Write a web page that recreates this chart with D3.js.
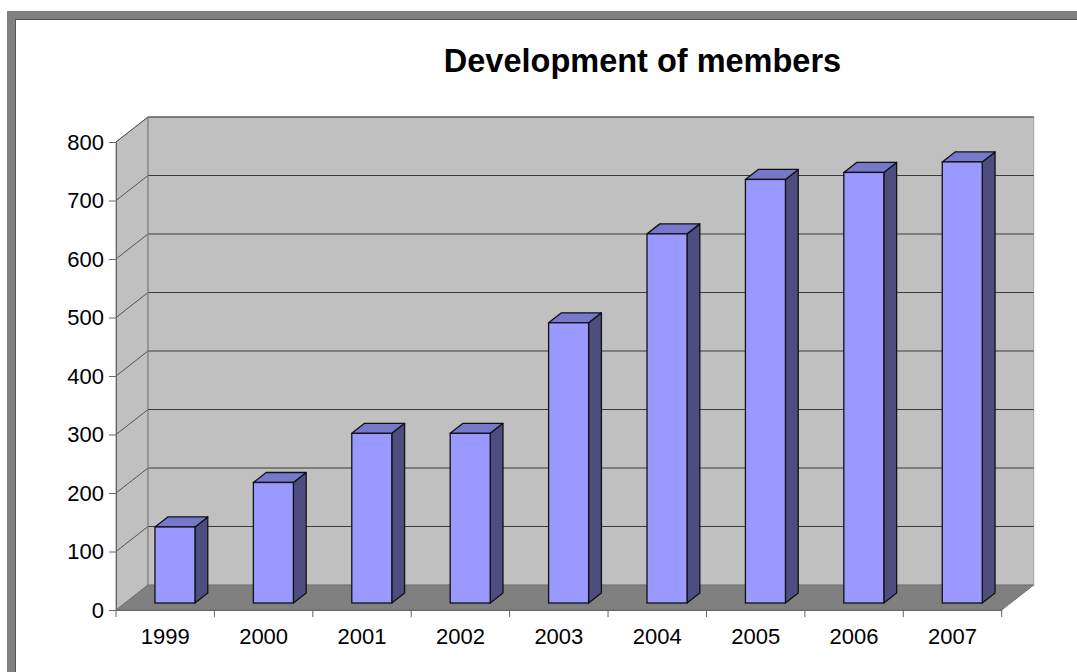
<!DOCTYPE html>
<html>
<head>
<meta charset="utf-8">
<script src="https://cdn.jsdelivr.net/npm/d3@7"></script>
<style>
  html, body { margin: 0; padding: 0; background: #fff; }
  svg { display: block; font-family: "Liberation Sans", Arial, sans-serif; }
</style>
</head>
<body>
<div id="chart"></div>
<script>
// chart data
const years = ["1999", "2000", "2001", "2002", "2003", "2004", "2005", "2006", "2007"];
const members = [130, 206, 290, 290, 479, 631, 724, 736, 754];
const yTicks = [0, 100, 200, 300, 400, 500, 600, 700, 800];
const title = "Development of members";

const width = 1077, height = 672;
const DX = 32, DY = 25;        // depth of the 3d box
const front0 = 0.28, front1 = 0.68; // bar depth inside the box
const barW = 40;

const svg = d3.select("#chart").append("svg")
    .attr("width", width)
    .attr("height", height);

// outer frame (runs off the page on right and bottom)
svg.append("path")
    .attr("d", `M11.5,${height + 10} V15.5 H${width + 10}`)
    .attr("fill", "none")
    .attr("stroke", "#808080")
    .attr("stroke-width", 9);
svg.append("path")
    .attr("d", `M15.5,${height + 10} V19.5 H${width + 10}`)
    .attr("fill", "none")
    .attr("stroke", "#555")
    .attr("stroke-width", 1);

const x = d3.scaleBand().domain(years).range([116, 1001.7]).paddingInner(0).paddingOuter(0);
const y = d3.scaleLinear().domain([0, 800]).range([610, 142]);

const x0 = x.range()[0], x1 = x.range()[1];
const yb = y(0), ytop = y(800);

// left wall
svg.append("path")
    .attr("d", `M${x0},${yb} L${x0},${ytop} L${x0 + DX},${ytop - DY} L${x0 + DX},${yb - DY} Z`)
    .attr("fill", "#c0c0c0")
    .attr("stroke", "#8a8a8a");
// back wall
svg.append("rect")
    .attr("x", x0 + DX).attr("y", ytop - DY)
    .attr("width", x1 - x0).attr("height", yb - ytop)
    .attr("fill", "#c0c0c0")
    .attr("stroke", "#a0a0a0");
// floor
svg.append("path")
    .attr("d", `M${x0},${yb} L${x1},${yb} L${x1 + DX},${yb - DY} L${x0 + DX},${yb - DY} Z`)
    .attr("fill", "#808080")
    .attr("stroke", "#707070");

// gridlines: back wall + left wall
const grid = svg.append("g");
yTicks.filter(t => t > 0).forEach(t => {
    grid.append("line")
        .attr("x1", x0 + DX).attr("x2", x1 + DX)
        .attr("y1", y(t) - DY).attr("y2", y(t) - DY)
        .attr("stroke", "#3a3a3a").attr("stroke-width", 1);
    grid.append("line")
        .attr("x1", x0).attr("x2", x0 + DX)
        .attr("y1", y(t)).attr("y2", y(t) - DY)
        .attr("stroke", "#555").attr("stroke-width", 1);
});
grid.append("line")
    .attr("x1", x0 + DX).attr("x2", x0 + DX)
    .attr("y1", ytop - DY).attr("y2", yb - DY)
    .attr("stroke", "#808080");

// bars
const sdx = (front1 - front0) * DX, sdy = (front1 - front0) * DY;
const bars = svg.append("g").selectAll("g")
    .data(years.map((yr, i) => ({ year: yr, value: members[i] })))
    .join("g");

bars.each(function (d) {
    const g = d3.select(this);
    const xl = x(d.year) + (x.bandwidth() - barW) / 2 + front0 * DX + 0.8;
    const xr = xl + barW;
    const yB = y(0) - front0 * DY;
    const yT = y(d.value) - front0 * DY;
    // side
    g.append("path")
        .attr("d", `M${xr},${yT} L${xr + sdx},${yT - sdy} L${xr + sdx},${yB - sdy} L${xr},${yB} Z`)
        .attr("fill", "#4d4d80").attr("stroke", "#111").attr("stroke-width", 1.3)
        .attr("stroke-linejoin", "round");
    // top
    g.append("path")
        .attr("d", `M${xl},${yT} L${xr},${yT} L${xr + sdx},${yT - sdy} L${xl + sdx},${yT - sdy} Z`)
        .attr("fill", "#7777cc").attr("stroke", "#111").attr("stroke-width", 1.3)
        .attr("stroke-linejoin", "round");
    // front
    g.append("rect")
        .attr("x", xl).attr("y", yT)
        .attr("width", barW).attr("height", yB - yT)
        .attr("fill", "#9999ff").attr("stroke", "#111").attr("stroke-width", 1.3);
});

// y axis
const yAxis = svg.append("g")
    .attr("transform", `translate(${x0},0)`)
    .call(d3.axisLeft(y).tickValues(yTicks).tickSize(7).tickPadding(5));
yAxis.select(".domain").attr("stroke", "#666");
yAxis.selectAll(".tick line").attr("stroke", "#666");
yAxis.selectAll("text")
    .attr("font-family", "Liberation Sans, Arial, sans-serif")
    .attr("font-size", 22).attr("fill", "#000");

// x axis
const xAxis = svg.append("g")
    .attr("transform", `translate(0,${yb})`)
    .call(d3.axisBottom(x).tickSizeInner(0).tickSizeOuter(0).tickPadding(18));
xAxis.select(".domain").attr("stroke", "#666");
xAxis.selectAll("text")
    .attr("font-family", "Liberation Sans, Arial, sans-serif")
    .attr("font-size", 22).attr("fill", "#000");
// boundary ticks between categories
xAxis.selectAll(".sep")
    .data(years.concat(["end"]))
    .join("line")
    .attr("class", "sep")
    .attr("x1", (d, i) => i < years.length ? x(d) : x1)
    .attr("x2", (d, i) => i < years.length ? x(d) : x1)
    .attr("y1", 0).attr("y2", 7)
    .attr("stroke", "#666");

// title
svg.append("text")
    .attr("x", 642.5).attr("y", 72)
    .attr("text-anchor", "middle")
    .attr("font-size", 32.5).attr("font-weight", "bold")
    .text(title);
</script>
</body>
</html>
